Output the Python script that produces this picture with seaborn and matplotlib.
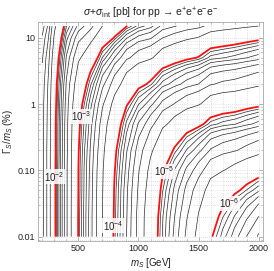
import numpy as np
import matplotlib
matplotlib.use("Agg")
import matplotlib.pyplot as plt
import matplotlib.ticker as mticker
import seaborn as sns

# scalar mass [GeV] and relative width Gamma_S/m_S [%]
masses = [200, 250, 300, 400, 500, 600, 700, 800, 900, 1000,
          1100, 1200, 1300, 1400, 1500, 1600, 1700, 1800, 1900, 2000]
widths = [0.01, 0.02, 0.05, 0.1, 0.2, 0.5, 1, 2, 5, 10, 15]

# log10(sigma + sigma_int / pb), one row per mass, one column per width
log_sigma = [
    [-1.36, -1.36, -1.36, -1.36, -1.36, -1.35, -1.35, -1.33, -1.29, -1.23, -1.18],
    [-1.58, -1.58, -1.58, -1.58, -1.58, -1.57, -1.56, -1.54, -1.47, -1.39, -1.32],
    [-1.95, -1.95, -1.95, -1.95, -1.94, -1.94, -1.92, -1.90, -1.83, -1.73, -1.65],
    [-2.49, -2.49, -2.49, -2.49, -2.48, -2.47, -2.45, -2.41, -2.31, -2.19, -2.09],
    [-3.01, -3.01, -3.00, -3.00, -2.99, -2.96, -2.91, -2.83, -2.66, -2.47, -2.33],
    [-3.35, -3.35, -3.34, -3.33, -3.31, -3.26, -3.19, -3.08, -2.85, -2.62, -2.47],
    [-3.70, -3.70, -3.69, -3.68, -3.65, -3.59, -3.50, -3.36, -3.10, -2.86, -2.70],
    [-4.03, -4.02, -4.01, -3.99, -3.96, -3.87, -3.76, -3.59, -3.30, -3.01, -2.86],
    [-4.30, -4.29, -4.28, -4.25, -4.21, -4.11, -3.98, -3.80, -3.49, -3.21, -2.99],
    [-4.57, -4.57, -4.54, -4.51, -4.45, -4.31, -4.15, -3.94, -3.60, -3.33, -3.12],
    [-4.85, -4.84, -4.80, -4.75, -4.66, -4.47, -4.27, -4.03, -3.67, -3.38, -3.19],
    [-5.10, -5.09, -5.04, -4.98, -4.87, -4.65, -4.43, -4.18, -3.81, -3.52, -3.33],
    [-5.33, -5.30, -5.24, -5.16, -5.02, -4.77, -4.53, -4.26, -3.89, -3.59, -3.39],
    [-5.55, -5.51, -5.43, -5.32, -5.16, -4.87, -4.62, -4.34, -3.96, -3.66, -3.44],
    [-5.76, -5.71, -5.60, -5.46, -5.27, -4.95, -4.68, -4.40, -4.01, -3.71, -3.48],
    [-5.98, -5.92, -5.78, -5.62, -5.41, -5.07, -4.80, -4.51, -4.12, -3.81, -3.57],
    [-6.12, -6.04, -5.88, -5.69, -5.47, -5.12, -4.84, -4.55, -4.15, -3.84, -3.61],
    [-6.26, -6.16, -5.96, -5.76, -5.51, -5.15, -4.86, -4.57, -4.18, -3.87, -3.64],
    [-6.40, -6.28, -6.05, -5.83, -5.57, -5.20, -4.91, -4.61, -4.22, -3.91, -3.67],
    [-6.54, -6.40, -6.14, -5.89, -5.63, -5.25, -4.95, -4.66, -4.26, -3.95, -3.70],
]

decades = [-7, -6, -5, -4, -3, -2, -1]
label_decades = [-2, -3, -4, -5, -6]
label_pos = [(300, 0.08), (525, 0.66), (790, 0.0145), (1210, 0.097), (1755, 0.032)]

sns.set_theme(style="ticks")
plt.rcParams["font.family"] = ["Liberation Sans", "DejaVu Sans"]
plt.rcParams["mathtext.fontset"] = "custom"
plt.rcParams["mathtext.rm"] = "Liberation Sans"
plt.rcParams["mathtext.it"] = "Liberation Sans:italic"
plt.rcParams["contour.negative_linestyle"] = "solid"

fig = plt.figure(figsize=(2.74, 2.71), dpi=100)
ax = fig.add_axes([38 / 274, 1 - 241 / 271, 225 / 274, 219 / 271])

Z = np.array(log_sigma).T
fine = sorted(np.log10(k * 10.0 ** d) for d in decades for k in range(2, 10))
ax.contour(masses, widths, Z, levels=fine, colors="#2a2a2a", linewidths=0.5,
           linestyles="solid", zorder=2)
ax.contour(masses, widths, Z, levels=decades, colors="#ff1010", linewidths=1.3,
           linestyles="solid", zorder=3)

for d, (mx, gy) in zip(label_decades, label_pos):
    ax.text(mx, gy, r"$10^{%d}$" % d, fontsize=7, ha="center", va="center", color="#222222",
            zorder=5, bbox=dict(facecolor="white", edgecolor="none", alpha=0.85, pad=0.4))

ax.set_yscale("log")
ax.set_xlim(164, 2036)
ax.set_ylim(0.0086, 17.3)
ax.set_xticks([500, 1000, 1500, 2000])
ax.xaxis.set_minor_locator(mticker.MultipleLocator(100))
ax.set_yticks([0.01, 0.1, 1, 10])
ax.set_yticklabels(["0.01", "0.10", "1", "10"])
ax.yaxis.set_minor_locator(mticker.LogLocator(base=10, subs=np.arange(2, 10)))
ax.yaxis.set_minor_formatter(mticker.NullFormatter())

ax.grid(which="both", linestyle=(0, (1, 2)), color="#c8c8c8", linewidth=0.5, zorder=0)
ax.tick_params(which="both", direction="in", top=True, right=True, color="#999999",
               labelsize=6.5, pad=2, labelcolor="#222222")
ax.tick_params(which="major", length=3, width=0.5)
ax.tick_params(which="minor", length=1.5, width=0.4)
for s in ax.spines.values():
    s.set_color("#aaaaaa")
    s.set_linewidth(0.6)

ax.set_xlabel(r"$m_S$ [GeV]", fontsize=7, labelpad=2, color="#222222")
ax.set_ylabel(r"$\Gamma_S/m_S$ (%)", fontsize=7, labelpad=2, color="#222222")
ax.set_title(r"$\sigma$+$\sigma_{\mathrm{int}}$ [pb] for pp → e$^{+}$e$^{+}$e$^{-}$e$^{-}$",
             fontsize=7.5, pad=4, color="#222222")

fig.savefig("out.png", dpi=100)
